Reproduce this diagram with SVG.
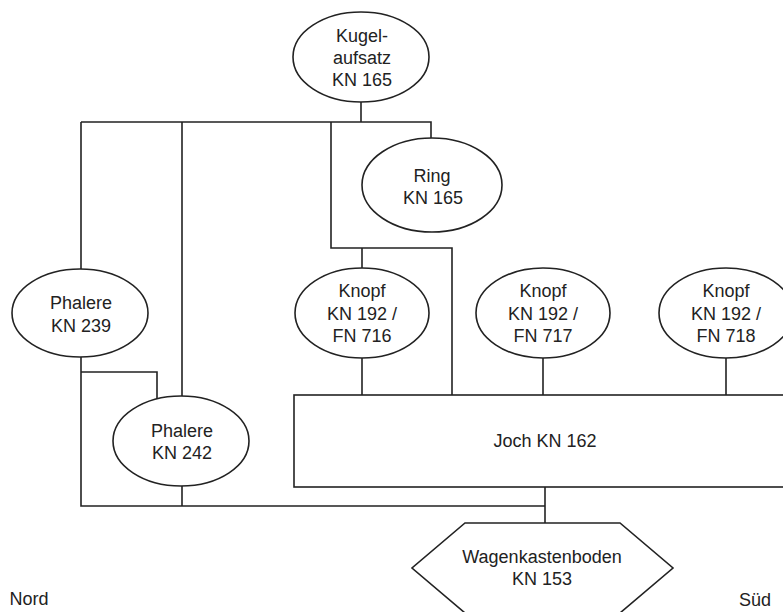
<svg xmlns="http://www.w3.org/2000/svg" width="783" height="612" viewBox="0 0 783 612">
<style>
.n{fill:#fff;stroke:#222;stroke-width:1.6}
.c{fill:none;stroke:#222;stroke-width:1.6}
text{font-family:"Liberation Sans",Arial,sans-serif;font-size:18px;fill:#222;text-anchor:middle}
</style>
<rect width="783" height="612" fill="#fff"/>
<g id="connectors">
<path class="c" d="M361 102V122M81 122H431V138"/>
<path class="c" d="M81 122V269M182 122V396"/>
<path class="c" d="M331 122V248H452V395M362 248V268"/>
<path class="c" d="M362 357V395M543 357V395M726 357V395"/>
<path class="c" d="M81 357V506H545M81 372H157V399M182 486V506"/>
<path class="c" d="M545 487V523"/>
</g>
<g id="kugelaufsatz"><ellipse class="n" cx="361" cy="57" rx="68" ry="45"/><text x="362" y="42">Kugel-</text><text x="362" y="64">aufsatz</text><text x="362" y="86">KN 165</text></g>
<g id="ring"><ellipse class="n" cx="432" cy="185" rx="70" ry="47"/><text x="432" y="182">Ring</text><text x="433" y="204">KN 165</text></g>
<g id="phalere239"><ellipse class="n" cx="80" cy="313" rx="68" ry="44"/><text x="81" y="309">Phalere</text><text x="81" y="332">KN 239</text></g>
<g id="phalere242"><ellipse class="n" cx="181" cy="441" rx="68" ry="45"/><text x="182" y="437">Phalere</text><text x="182" y="459">KN 242</text></g>
<g id="knopf716"><ellipse class="n" cx="362" cy="313" rx="67" ry="45"/><text x="362" y="297">Knopf</text><text x="362" y="320">KN 192 /</text><text x="362" y="342">FN 716</text></g>
<g id="knopf717"><ellipse class="n" cx="543" cy="313" rx="67" ry="45"/><text x="543" y="297">Knopf</text><text x="543" y="320">KN 192 /</text><text x="543" y="342">FN 717</text></g>
<g id="knopf718"><ellipse class="n" cx="726" cy="313" rx="67" ry="45"/><text x="726" y="297">Knopf</text><text x="726" y="320">KN 192 /</text><text x="726" y="342">FN 718</text></g>
<g id="joch"><rect class="n" x="294" y="395" width="495" height="92"/><text x="545" y="447">Joch KN 162</text></g>
<g id="wagenkastenboden"><polygon class="n" points="465,523 620,523 673,568 620,613 465,613 412,568"/><text x="542" y="563">Wagenkastenboden</text><text x="542" y="585">KN 153</text></g>
<g id="labels"><text x="29" y="605">Nord</text><text x="755" y="606">Süd</text></g>
</svg>
